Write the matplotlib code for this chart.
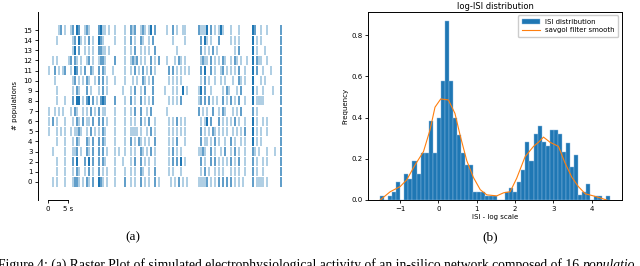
import numpy as np
import matplotlib
matplotlib.use("Agg")
import matplotlib.pyplot as plt

# ---- raster data: one string per population, one char per 0.5 s bin
# '.' = no spike, '1'..'3' = spike density (light -> dark)
bin_s = 0.5
raster_rows = [
    # population 0 ... 15
    "..1.1...1." "..1221.1.2" "1.2..321.1" "...1....2." ".1.1..2.1." "1..2.1...." ".1.1.2.1.1" ".....11112" ".1.1.2.2.2" ".2.1.1.1.." "..2.1111.1" "......2",
    "....1...1." "..1.21..1." "2.1..2.1.1" "...1....1." ".1.1..21.." "1..2......" "1.1...1..." "......1.2." "1..1.1.1.." ".1.1.1..1." "..2.1..1.." "......2",
    "....1...1." "..2.3...2." "3.2..2.21." "...1...1.." ".1.2..2.1." "1..1......" "1.2.2.3.1." "......2.1." ".2.2.1.1.1" ".2.1.2..1." "..2.1..1.1" "......2",
    "..1.....1." "..112.1..2" "1.2..2.2.1" "...1.1..1." ".1.1..21.1" ".2.1......" "1.2.1.1..." ".....1121." ".2.1..1.2." ".1.2.1..1." "..21.1...1" "...1..2",
    "....1...1." "..1.21...2" "1.2..2.21." "...1....1." ".2.1.21.1." "1..2......" "1.1.2...1." "......2.11" ".1.2.1..1." ".2.1..1.1." "..3.1.1..." "......2",
    "1...1.1.1." ".1.1121..1" ".2.1.1.21." "...1....1." ".1111.1..1" ".2.1......" "1.1.1.1.1." "......2.1." "1.21.1.1.1" "..1.1.1.2." "..3.1.1..1" "......2",
    "1.2.1...1." "..1.21.2.1" "1.2..2.2.1" "...1....1." ".1.1..2.1." "2..1......" "1.1.2.1.1." "......1.13" ".2...2.1.1" ".1.2.1..1." "..3.1..1.1" "......2",
    "1..1.1.1.." ".1.21..1.1" ".2.1.2.11." "...1....1." ".1.2..2..1" ".2.......1" ".........." ".....2.1.1" "..2..1.21." "..1.1.2..." "..2.1....." "......2",
    "....1...1." "..2.33.1.2" "3.2.1.232." "...2....1." ".2.1..2.1." "1.2......." "1.1.1.2..." ".....12.2." "2.1.1..2.1" ".2.1.2..1." "..3.1111.." "......2",
    "....1....." "..1.21...2" ".1...1.2.1" ".......1.." ".1.2..1.2." "..2.....1." "..1.1..3.1" ".....13.2." ".1.....1.2" "1...1.2..." "..3.1..1.." "..1...2",
    "...1......" "..12.1.1.2" "1..1.2.2.1" "...1....1." "..1.1..21." "1.2......." "1.1.1.1..." "......1.2." "1..1..1.1." "..1..21.1." "..3...1.1." "......2",
    "1..2.1.12." ".1.32.1.2." ".21..2.21." "..1.....1." ".1.2.1.2.1" ".2.1......" "2.2.1.1.1." "1.....2.3." ".2.1..12.1" ".1.1.2..1." "..3.2..1.." ".1....2",
    "..1.1....." "12.21.1..1" "2.1..1221." "...2....1." ".1212.1.1." ".2.1.2...1" "...1.21.1." "......1211" ".2.1.1.21." ".1.21.1..1" "..3.211..1" "......2",
    ".........." "..13.2..1." "1.1..2211." "1.......1." ".1.2..1.1." "1..2......" "....1....." "......2.1." "1.2.1....." "...1.2...." "..3.1...1." "......2",
    "....1....." "..12.31.1." "2.1..321.." "...1....1." ".2.1..21.." "1.2......." "..1.....1." "......2.31" ".1...2...." ".1.1.1...." "..3.1.1..." "......2",
    ".....12.1." ".12.32..12" "1....2311." "1..1....1." ".212..121." "13.2.....1" "..2.1..11." ".....21113" ".2.1.131.." ".1...1...." "..32..1..1" "......2",
]
n_pop = len(raster_rows)

# ---- log-ISI histogram (bar heights)
hist_lo, hist_hi = -1.52, 4.48
hist_heights = [
    0.02, 0.0, 0.02, 0.04, 0.085, 0.0, 0.125, 0.10, 0.19, 0.125,
    0.23, 0.23, 0.385, 0.23, 0.40, 0.575, 0.87, 0.575, 0.40, 0.315,
    0.23, 0.17, 0.17, 0.04, 0.04, 0.04, 0.02, 0.02, 0.02, 0.0,
    0.0, 0.04, 0.06, 0.04, 0.085, 0.145, 0.28, 0.19, 0.32, 0.36,
    0.28, 0.26, 0.34, 0.34, 0.32, 0.235, 0.275, 0.16, 0.22, 0.025,
    0.04, 0.08, 0.0, 0.02, 0.02, 0.0, 0.02,
]
smooth_x = [-1.52, -1.26, -1.0, -0.83, -0.61, -0.39, -0.22, -0.09, 0.06, 0.26,
            0.43, 0.57, 0.74, 0.91, 1.09, 1.26, 1.52, 1.70, 1.87, 2.04,
            2.26, 2.48, 2.61, 2.74, 2.91, 3.13, 3.30, 3.48, 3.65, 3.83,
            4.04, 4.22, 4.39]
smooth_y = [0.0, 0.04, 0.065, 0.097, 0.17, 0.235, 0.34, 0.45, 0.49, 0.485,
            0.42, 0.31, 0.19, 0.11, 0.05, 0.025, 0.02, 0.035, 0.04, 0.105,
            0.21, 0.26, 0.28, 0.305, 0.28, 0.26, 0.18, 0.11, 0.065, 0.03,
            0.02, 0.01, 0.0]

W, H = 640, 266
fig = plt.figure(figsize=(W / 100, H / 100), dpi=100)


def px_axes(x0, y0, x1, y1):
    return fig.add_axes([x0 / W, 1 - y1 / H, (x1 - x0) / W, (y1 - y0) / H])


tick_fs = 5

# Raster plot
ax = px_axes(38, 12, 288, 200)
alphas = {"1": 0.35, "2": 0.7, "3": 1.0}
for pop, row in enumerate(raster_rows):
    for level, alpha in alphas.items():
        times = [i * bin_s + bin_s / 2 for i, c in enumerate(row) if c == level]
        if times:
            ax.vlines(times, pop - 0.45, pop + 0.45, color="#1f77b4",
                      alpha=alpha, lw=1.2, antialiased=False)
ax.set_xlim(-2.5, 60)
ax.set_ylim(-1.78, 16.78)
ax.set_yticks(range(n_pop))
ax.set_yticklabels([str(i) for i in range(n_pop)], fontsize=tick_fs)
ax.set_ylabel("# populations", fontsize=tick_fs)
ax.spines["top"].set_visible(False)
ax.spines["right"].set_visible(False)
ax.spines["bottom"].set_bounds(0, 5)
ax.set_xticks([0, 5])
ax.set_xticklabels(["0", "5 s"], fontsize=tick_fs)
ax.tick_params(length=2.5, width=0.6, pad=1.5)
for s in ("left", "bottom"):
    ax.spines[s].set_linewidth(0.7)

# log-ISI histogram
ax2 = px_axes(368.3, 11.7, 621.7, 200)
edges = np.linspace(hist_lo, hist_hi, len(hist_heights) + 1)
bars = ax2.bar(edges[:-1], hist_heights, width=np.diff(edges), align="edge",
               color="#1f77b4", edgecolor="#8fbbe0", linewidth=0.3,
               label="ISI distribution")
line, = ax2.plot(smooth_x, smooth_y, color="#ff7f0e", lw=0.8,
                 label="savgol filter smooth")
ax2.set_xlim(-1.83, 4.78)
ax2.set_ylim(0, 0.913)
ax2.set_yticks([0.0, 0.2, 0.4, 0.6, 0.8])
ax2.set_xticks([-1, 0, 1, 2, 3, 4])
ax2.tick_params(labelsize=tick_fs, length=2.5, width=0.6, pad=1.5)
ax2.set_title("log-ISI distribution", fontsize=6, pad=2)
ax2.set_xlabel("ISI - log scale", fontsize=tick_fs, labelpad=2)
ax2.set_ylabel("Frequency", fontsize=tick_fs, labelpad=2)
for s in ax2.spines.values():
    s.set_linewidth(0.7)
ax2.legend([bars, line], ["ISI distribution", "savgol filter smooth"],
           loc="upper right", fontsize=tick_fs, handlelength=2.6,
           borderpad=0.5, labelspacing=0.4, framealpha=1)

# sub-captions and figure caption (as in the paper); the caption line is
# cut by the bottom edge, like in the source image
serif = "Liberation Serif"
cap_fs = 9.8
fig.text(133 / W, 1 - 237 / H, "(a)", ha="center", va="center",
         family=serif, fontsize=9.5)
fig.text(490 / W, 1 - 237 / H, "(b)", ha="center", va="center",
         family=serif, fontsize=9.5)
cap_y = -0.012
cap = fig.text(-0.003, cap_y,
               "Figure 4: (a) Raster Plot of simulated electrophysiological "
               "activity of an in-silico network composed of 16 ",
               ha="left", va="baseline", family=serif, fontsize=cap_fs)
renderer = fig.canvas.get_renderer()
bb = cap.get_window_extent(renderer)
fig.text(bb.x1 / W, cap_y, "populatio", ha="left", va="baseline",
         family=serif, style="italic", fontsize=cap_fs)

fig.savefig("out.png", dpi=100)
